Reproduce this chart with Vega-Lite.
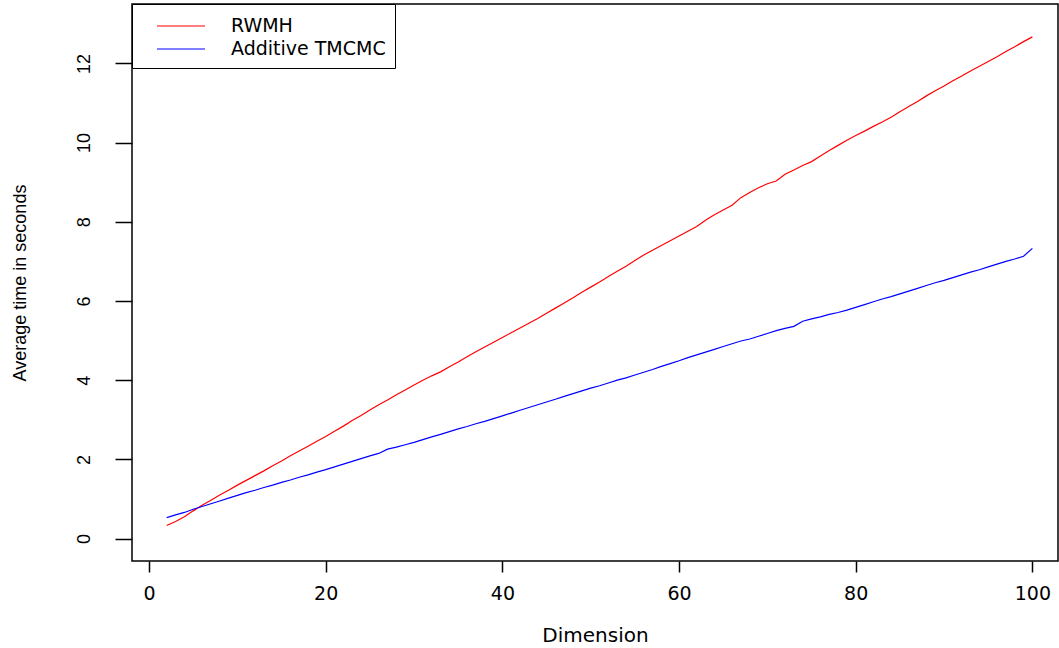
{
  "$schema": "https://vega.github.io/schema/vega-lite/v6.json",
  "autosize": {"type": "none"},
  "width": 926,
  "height": 557,
  "padding": {"left": 132, "top": 4, "right": 1, "bottom": 87},
  "background": "white",
  "config": {
    "view": {"stroke": "black", "strokeWidth": 1.5},
    "axis": {"grid": false, "domain": false, "tickColor": "black", "tickWidth": 1.5, "labelColor": "black", "titleColor": "black"}
  },
  "data": {"values": [
    {"d":2,"RWMH":0.33,"Additive TMCMC":0.53},
    {"d":3,"RWMH":0.43,"Additive TMCMC":0.60},
    {"d":4,"RWMH":0.55,"Additive TMCMC":0.66},
    {"d":5,"RWMH":0.70,"Additive TMCMC":0.74},
    {"d":6,"RWMH":0.84,"Additive TMCMC":0.81},
    {"d":7,"RWMH":0.97,"Additive TMCMC":0.88},
    {"d":8,"RWMH":1.10,"Additive TMCMC":0.95},
    {"d":9,"RWMH":1.22,"Additive TMCMC":1.02},
    {"d":10,"RWMH":1.35,"Additive TMCMC":1.09},
    {"d":11,"RWMH":1.47,"Additive TMCMC":1.16},
    {"d":12,"RWMH":1.59,"Additive TMCMC":1.22},
    {"d":13,"RWMH":1.71,"Additive TMCMC":1.29},
    {"d":14,"RWMH":1.84,"Additive TMCMC":1.35},
    {"d":15,"RWMH":1.96,"Additive TMCMC":1.42},
    {"d":16,"RWMH":2.09,"Additive TMCMC":1.48},
    {"d":17,"RWMH":2.21,"Additive TMCMC":1.55},
    {"d":18,"RWMH":2.33,"Additive TMCMC":1.61},
    {"d":19,"RWMH":2.46,"Additive TMCMC":1.68},
    {"d":20,"RWMH":2.58,"Additive TMCMC":1.74},
    {"d":21,"RWMH":2.71,"Additive TMCMC":1.81},
    {"d":22,"RWMH":2.84,"Additive TMCMC":1.88},
    {"d":23,"RWMH":2.98,"Additive TMCMC":1.95},
    {"d":24,"RWMH":3.11,"Additive TMCMC":2.02},
    {"d":25,"RWMH":3.25,"Additive TMCMC":2.09},
    {"d":26,"RWMH":3.38,"Additive TMCMC":2.15},
    {"d":27,"RWMH":3.50,"Additive TMCMC":2.26},
    {"d":28,"RWMH":3.63,"Additive TMCMC":2.31},
    {"d":29,"RWMH":3.75,"Additive TMCMC":2.37},
    {"d":30,"RWMH":3.88,"Additive TMCMC":2.43},
    {"d":31,"RWMH":4.00,"Additive TMCMC":2.50},
    {"d":32,"RWMH":4.11,"Additive TMCMC":2.57},
    {"d":33,"RWMH":4.21,"Additive TMCMC":2.63},
    {"d":34,"RWMH":4.34,"Additive TMCMC":2.70},
    {"d":35,"RWMH":4.46,"Additive TMCMC":2.77},
    {"d":36,"RWMH":4.59,"Additive TMCMC":2.83},
    {"d":37,"RWMH":4.72,"Additive TMCMC":2.90},
    {"d":38,"RWMH":4.84,"Additive TMCMC":2.96},
    {"d":39,"RWMH":4.96,"Additive TMCMC":3.03},
    {"d":40,"RWMH":5.08,"Additive TMCMC":3.10},
    {"d":41,"RWMH":5.20,"Additive TMCMC":3.17},
    {"d":42,"RWMH":5.32,"Additive TMCMC":3.24},
    {"d":43,"RWMH":5.44,"Additive TMCMC":3.31},
    {"d":44,"RWMH":5.56,"Additive TMCMC":3.38},
    {"d":45,"RWMH":5.69,"Additive TMCMC":3.45},
    {"d":46,"RWMH":5.82,"Additive TMCMC":3.52},
    {"d":47,"RWMH":5.95,"Additive TMCMC":3.59},
    {"d":48,"RWMH":6.08,"Additive TMCMC":3.66},
    {"d":49,"RWMH":6.22,"Additive TMCMC":3.73},
    {"d":50,"RWMH":6.35,"Additive TMCMC":3.80},
    {"d":51,"RWMH":6.48,"Additive TMCMC":3.86},
    {"d":52,"RWMH":6.62,"Additive TMCMC":3.93},
    {"d":53,"RWMH":6.75,"Additive TMCMC":4.00},
    {"d":54,"RWMH":6.88,"Additive TMCMC":4.06},
    {"d":55,"RWMH":7.02,"Additive TMCMC":4.13},
    {"d":56,"RWMH":7.16,"Additive TMCMC":4.20},
    {"d":57,"RWMH":7.28,"Additive TMCMC":4.27},
    {"d":58,"RWMH":7.40,"Additive TMCMC":4.35},
    {"d":59,"RWMH":7.52,"Additive TMCMC":4.42},
    {"d":60,"RWMH":7.64,"Additive TMCMC":4.49},
    {"d":61,"RWMH":7.76,"Additive TMCMC":4.57},
    {"d":62,"RWMH":7.88,"Additive TMCMC":4.64},
    {"d":63,"RWMH":8.04,"Additive TMCMC":4.71},
    {"d":64,"RWMH":8.18,"Additive TMCMC":4.78},
    {"d":65,"RWMH":8.30,"Additive TMCMC":4.85},
    {"d":66,"RWMH":8.42,"Additive TMCMC":4.92},
    {"d":67,"RWMH":8.61,"Additive TMCMC":4.99},
    {"d":68,"RWMH":8.74,"Additive TMCMC":5.04},
    {"d":69,"RWMH":8.86,"Additive TMCMC":5.11},
    {"d":70,"RWMH":8.96,"Additive TMCMC":5.18},
    {"d":71,"RWMH":9.03,"Additive TMCMC":5.25},
    {"d":72,"RWMH":9.20,"Additive TMCMC":5.31},
    {"d":73,"RWMH":9.31,"Additive TMCMC":5.36},
    {"d":74,"RWMH":9.42,"Additive TMCMC":5.49},
    {"d":75,"RWMH":9.52,"Additive TMCMC":5.55},
    {"d":76,"RWMH":9.66,"Additive TMCMC":5.60},
    {"d":77,"RWMH":9.80,"Additive TMCMC":5.66},
    {"d":78,"RWMH":9.93,"Additive TMCMC":5.71},
    {"d":79,"RWMH":10.06,"Additive TMCMC":5.77},
    {"d":80,"RWMH":10.18,"Additive TMCMC":5.84},
    {"d":81,"RWMH":10.29,"Additive TMCMC":5.91},
    {"d":82,"RWMH":10.41,"Additive TMCMC":5.98},
    {"d":83,"RWMH":10.52,"Additive TMCMC":6.05},
    {"d":84,"RWMH":10.64,"Additive TMCMC":6.11},
    {"d":85,"RWMH":10.78,"Additive TMCMC":6.18},
    {"d":86,"RWMH":10.91,"Additive TMCMC":6.25},
    {"d":87,"RWMH":11.04,"Additive TMCMC":6.32},
    {"d":88,"RWMH":11.18,"Additive TMCMC":6.39},
    {"d":89,"RWMH":11.31,"Additive TMCMC":6.46},
    {"d":90,"RWMH":11.43,"Additive TMCMC":6.52},
    {"d":91,"RWMH":11.56,"Additive TMCMC":6.59},
    {"d":92,"RWMH":11.68,"Additive TMCMC":6.66},
    {"d":93,"RWMH":11.81,"Additive TMCMC":6.73},
    {"d":94,"RWMH":11.93,"Additive TMCMC":6.79},
    {"d":95,"RWMH":12.05,"Additive TMCMC":6.86},
    {"d":96,"RWMH":12.17,"Additive TMCMC":6.93},
    {"d":97,"RWMH":12.30,"Additive TMCMC":7.00},
    {"d":98,"RWMH":12.42,"Additive TMCMC":7.06},
    {"d":99,"RWMH":12.55,"Additive TMCMC":7.13},
    {"d":100,"RWMH":12.67,"Additive TMCMC":7.33}
  ]},
  "transform": [{"fold": ["RWMH", "Additive TMCMC"], "as": ["series", "t"]}],
  "mark": {"type": "line", "strokeWidth": 1.2, "clip": true},
  "encoding": {
    "x": {
      "field": "d", "type": "quantitative",
      "scale": {"domain": [-1.93, 102.9], "nice": false, "zero": false},
      "axis": {"values": [0, 20, 40, 60, 80, 100], "tickSize": 11, "labelFont": "DejaVu Sans", "labelFontSize": 19, "labelPadding": 12, "title": "Dimension", "titleFont": "DejaVu Sans", "titleFontSize": 20, "titleFontWeight": "normal", "titlePadding": 22}
    },
    "y": {
      "field": "t", "type": "quantitative",
      "scale": {"domain": [-0.566, 13.5], "nice": false, "zero": false},
      "axis": {"values": [0, 2, 4, 6, 8, 10, 12], "tickSize": 17, "labelFont": "Liberation Sans", "labelFontSize": 18, "labelAngle": -90, "labelAlign": "center", "labelBaseline": "bottom", "labelPadding": 22, "title": "Average time in seconds", "titleFont": "Liberation Sans", "titleFontSize": 18, "titleFontWeight": "normal", "titlePadding": 46}
    },
    "color": {
      "field": "series", "type": "nominal",
      "scale": {"domain": ["RWMH", "Additive TMCMC"], "range": ["#ff0000", "#0000ff"]},
      "legend": {"orient": "none", "legendX": 0, "legendY": 0, "title": null, "strokeColor": "black", "fillColor": "white", "padding": 9, "symbolType": "M-2,0H2", "symbolSize": 576, "symbolStrokeWidth": 1.2, "symbolFillColor": "transparent", "symbolOffset": 27, "labelFont": "DejaVu Sans", "labelFontSize": 19, "labelOffset": 37, "rowPadding": -2, "labelLimit": 400, "labelColor": "black", "labelExpr": "datum.label + '\u2003\u2003\u2003'"}
    }
  }
}
